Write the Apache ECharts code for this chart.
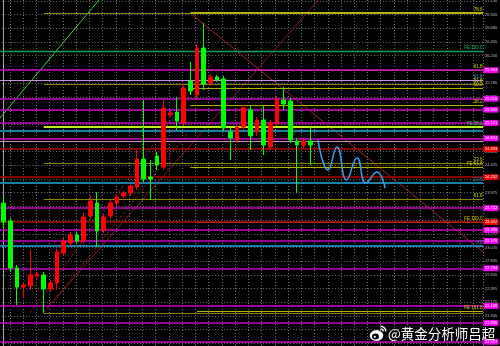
<!DOCTYPE html>
<html><head><meta charset="utf-8">
<script src="https://cdn.jsdelivr.net/npm/echarts@6/dist/echarts.min.js"></script>
<style>html,body{margin:0;padding:0;background:#000;}#c{width:500px;height:346px;}</style>
</head><body><div id="c"></div>
<script>
// ---- axis ticks ----
const tickBase = 21.945;
const tickStep = 0.22545;
const tickLabels = ['21.945','22.170','22.395','22.620','22.845','23.070','23.295','23.520','23.750','23.975','24.200','24.425','24.650','24.875','25.100','25.330','25.555','25.780','26.005','26.230','26.455','26.680','26.905','27.130'];

// ---- candles (index 0..46) ----
const candleOpen  = [23.805,23.508,22.734,22.422,22.439,22.603,22.620,22.389,22.488,22.982,23.146,23.278,23.179,23.591,23.805,23.360,23.591,23.805,23.920,23.969,24.068,24.528,24.232,24.578,24.397,25.253,25.302,25.121,25.812,25.582,26.355,25.779,25.878,25.845,24.973,24.841,25.055,25.335,24.973,25.170,24.726,25.121,25.499,25.483,24.825,24.759,24.825];
const candleClose = [23.492,22.734,22.422,22.455,22.620,22.636,22.389,22.488,22.998,23.179,23.278,23.179,23.574,23.837,23.344,23.574,23.805,23.903,23.969,24.084,24.528,24.199,24.199,24.430,25.368,25.285,25.154,25.697,25.648,26.355,25.763,25.878,25.829,25.039,24.874,25.055,25.368,24.907,25.170,24.759,25.121,25.516,25.434,24.841,24.759,24.825,24.759];
const candleLow   = [23.410,22.669,22.126,22.241,22.373,22.537,21.994,22.340,22.373,22.932,23.097,23.130,23.130,23.541,23.080,23.311,23.541,23.755,23.886,23.920,24.018,24.150,23.854,24.347,24.347,25.220,25.006,25.072,25.582,25.499,25.664,25.730,25.796,24.989,24.512,24.792,25.006,24.677,24.907,24.594,24.677,25.072,25.335,24.792,23.969,24.709,24.430];
const candleHigh  = [23.886,23.558,22.784,22.504,23.031,22.669,22.669,22.537,23.047,23.229,23.327,23.327,23.640,23.920,23.985,23.623,23.854,23.936,24.002,24.117,24.677,25.499,24.512,24.644,25.499,25.318,25.549,25.763,26.125,26.421,26.767,25.927,25.911,25.894,25.039,25.104,25.417,25.401,25.220,25.417,25.170,25.565,25.713,25.532,24.874,24.874,25.055];

// ---- forecast zigzag ----
const forecastX = [47.15,48.65,50.0,51.42,53.0,54.35,56.0,57.2];
const forecastY = [24.841,24.347,24.726,24.183,24.545,24.134,24.315,24.051];

// ---- horizontal levels ----
const magentaLevels = [25.993,25.516,25.335,25.121,24.874,23.722,23.360,23.179,22.734,22.109,21.830,21.517];
const redLevels = [24.693,24.232,23.492];
const blueLevels = [24.989,24.134,23.097];
const blueTexts = ['','23.6','0.0'];
const lavenderLevels = [25.829];
const lavenderTexts = ['61.8'];
const pinkLevels = [24.825];
const feGreenLevels = [26.306];
const feGreenTexts = ['FE 100.0'];
const limeLevels = [25.055];
const limeStart = [6];
const limeTexts = ['FE 38.2'];
const oliveLevels = [26.931,26.931,25.993,25.763,25.697,25.417,24.463,24.397,23.870,23.492,22.027,21.994];
const oliveStart  = [6,28,28,6,28,28,6,28,6,29,29,6];
const oliveTexts  = ['','78.6','61.8','61.8','50.0','38.2','23.6','FE 61.8','61.8','FE 100.0','FE 161.8',''];
const magentaBoxOnly = [24.463];
const lastPrice = [24.775];

// ---- diagonal lines [x0,p0,x1,p1] ----
const greenDiag = [-1.0,25.145,15.05,27.244];
const redDiagA = [27.95,26.931,71.9,22.998];
const redDiagB = [5.90,21.994,48.5,27.31];
const redChan1 = [3.95,21.994,31.70,26.158];
const redChan2 = [6.65,22.077,27.95,25.006];

const xMin = -1.125, xMax = 71.9;
const yMin = tickBase - 3*tickStep, yMax = tickBase + 24*tickStep;
const FONT = 'Liberation Sans';

function boxLabel(p, bg, fg){
  return {show:true, position:'end', distance:0.5, formatter:p.toFixed(3), backgroundColor:bg, color:fg,
    fontSize:4, lineHeight:5, padding:[0.5,1.4,0.3,1.4], fontFamily:FONT};
}
function textLabel(t, color){
  return t ? {show:true, position:'insideEndTop', distance:0.6, formatter:t, color:color, fontSize:4.5, fontFamily:FONT} : {show:false};
}
function full(p, color, width, label){
  return {yAxis:p, lineStyle:{color:color, width:width, type:'solid', opacity: width>0?1:0}, label: label || {show:false}};
}
function part(x0, p, color, width, label){
  return [{coord:[x0,p], lineStyle:{color:color, width:width, type:'solid'}, label: label || {show:false}}, {coord:[xMax,p]}];
}

const levelItems = [];
oliveLevels.forEach((p,i)=>{
  const bright = oliveStart[i] >= 28;
  levelItems.push(part(oliveStart[i], p, bright ? '#b4b400' : '#858500', bright && i===1 ? 2 : 1.2, textLabel(oliveTexts[i], '#d6d600')));
});
feGreenLevels.forEach((p,i)=>levelItems.push(full(p,'#12a062',1.3,textLabel(feGreenTexts[i],'#22c070'))));
limeLevels.forEach((p,i)=>levelItems.push(part(limeStart[i], p, '#b8f020', 2, textLabel(limeTexts[i],'#40d040'))));
lavenderLevels.forEach((p,i)=>{
  levelItems.push(full(p,'#c890e0',1.2,textLabel(lavenderTexts[i],'#3fa0c8')));
  levelItems.push(full(p,'#000',0,boxLabel(p,'#ee0000','#ffffff')));
});
pinkLevels.forEach(p=>levelItems.push(full(p,'#d890c0',1)));
blueLevels.forEach((p,i)=>levelItems.push(full(p,'#1d7ea8',2,textLabel(blueTexts[i],'#3a9ad0'))));
redLevels.forEach(p=>levelItems.push(full(p,'#b40000',1.5,boxLabel(p,'#ee0000','#ffffff'))));
magentaLevels.forEach(p=>levelItems.push(full(p,'#c400c4',1.5,boxLabel(p,'#ff00ff','#ffffff'))));
magentaBoxOnly.forEach(p=>levelItems.push(full(p,'#000',0,boxLabel(p,'#ff00ff','#ffffff'))));
lastPrice.forEach(p=>levelItems.push(full(p,'#000',0,boxLabel(p,'#ffffff','#000000'))));

function diag(d, color, type, width){
  return {type:'line', xAxisIndex:0, yAxisIndex:0, data:[[d[0],d[1]],[d[2],d[3]]], showSymbol:false, symbol:'none',
    lineStyle:{color:color, width:width, type:type}, silent:true, z:4, animation:false};
}

const dotted = {show:true, lineStyle:{color:'#707070', width:1, type:[1,2]}};

const chart = echarts.init(document.getElementById('c'), null, {renderer:'canvas'});
chart.setOption({
  backgroundColor:'#000000',
  animation:false,
  grid:[
    {left:-3.83, right:17, top:-12.8, bottom:-11.1, containLabel:false, outerBoundsMode:'none'},
    {left:-3.24, right:17, top:0, bottom:0, containLabel:false, outerBoundsMode:'none'}
  ],
  xAxis:[
    {gridIndex:0, type:'value', min:xMin, max:xMax, axisLine:{show:false}, axisTick:{show:false}, axisLabel:{show:false}, splitLine:{show:false}},
    {gridIndex:1, type:'value', min:0, max:36.725, interval:1, axisLine:{show:false}, axisTick:{show:false}, axisLabel:{show:false}, splitLine:dotted}
  ],
  yAxis:[
    {gridIndex:0, type:'value', position:'right', min:yMin, max:yMax, interval:tickStep,
     axisLine:{show:true, lineStyle:{color:'#a8a8a8', width:1}}, axisTick:{show:false},
     axisLabel:{show:true, margin:2, color:'#bdbdbd', fontSize:4, fontFamily:FONT, showMinLabel:true, showMaxLabel:true,
       formatter:function(v){ const k=Math.round((v-tickBase)/tickStep); return (k>=0 && k<tickLabels.length)? tickLabels[k] : ''; }},
     splitLine:dotted},
    {gridIndex:1, type:'value', min:0, max:1, axisLine:{show:false}, axisTick:{show:false}, axisLabel:{show:false}, splitLine:{show:false}}
  ],
  series:[
    {type:'line', xAxisIndex:1, yAxisIndex:1, data:[], silent:true, symbol:'none'},
    {type:'line', xAxisIndex:0, yAxisIndex:0, data:[], z:3, silent:true,
     markLine:{symbol:['none','none'], silent:true, animation:false, label:{show:false}, data:levelItems}},
    diag(greenDiag,'#3fd03f','solid',1),
    diag(redDiagA,'#a82020','solid',1),
    diag(redDiagB,'#8c1818','solid',1),
    diag(redChan1,'#8c1818',[3,2],1),
    diag(redChan2,'#8c1818',[3,2],1),
    {type:'candlestick', xAxisIndex:0, yAxisIndex:0, z:5, barWidth:4, silent:true,
     data:candleOpen.map((o,i)=>[i,o,candleClose[i],candleLow[i],candleHigh[i]]),
     itemStyle:{color:'#ff0000', color0:'#00ff00', borderColor:'#ff0000', borderColor0:'#00ff00', borderWidth:1}},
    {type:'line', xAxisIndex:0, yAxisIndex:0, z:6, smooth:0.5, symbol:'none', showSymbol:false, silent:true,
     data:forecastX.map((x,i)=>[x,forecastY[i]]), lineStyle:{color:'#3d9df0', width:1.5}}
  ],
  graphic:[
    {type:'circle', x:376.5, y:335.5, scaleX:1.25, shape:{cx:0,cy:0,r:5.4}, style:{fill:'#ffffff'}, z:100},
    {type:'circle', x:375.5, y:336.5, scaleX:1.2, shape:{cx:0,cy:0,r:2.9}, style:{fill:'#000000'}, z:101},
    {type:'circle', x:374.8, y:336.8, shape:{cx:0,cy:0,r:1.1}, style:{fill:'#ffffff'}, z:102},
    {type:'arc', shape:{cx:380.5, cy:331.5, r:5.3, startAngle:-Math.PI/2, endAngle:0}, style:{stroke:'#ffffff', lineWidth:1.4, fill:null}, z:100},
    {type:'arc', shape:{cx:380.5, cy:331.5, r:2.7, startAngle:-Math.PI/2, endAngle:0}, style:{stroke:'#ffffff', lineWidth:1.2, fill:null}, z:100},
    {type:'text', x:388, y:334, z:100, style:{text:'@黄金分析师吕超', fill:'#ffffff', fontSize:13.5, fontFamily:'Noto Sans CJK SC', verticalAlign:'middle', align:'left'}}
  ]
});
</script>
</body></html>
